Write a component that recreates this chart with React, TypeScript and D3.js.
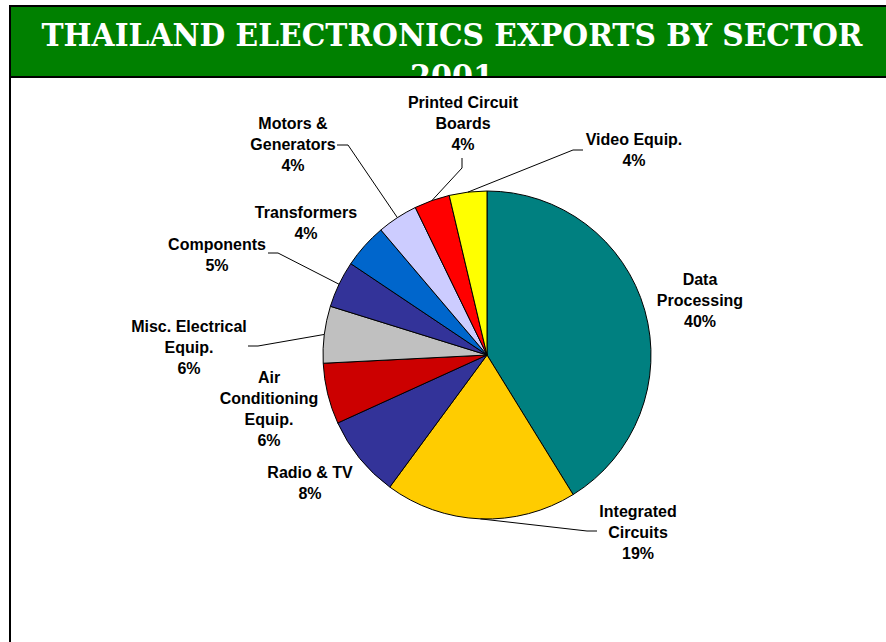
import * as d3 from 'd3';

// slice values (clockwise from 12 o'clock)
const categories = [
  'Data Processing',
  'Integrated Circuits',
  'Radio & TV',
  'Air Conditioning Equip.',
  'Misc. Electrical Equip.',
  'Components',
  'Transformers',
  'Motors & Generators',
  'Printed Circuit Boards',
  'Video Equip.',
];
const values = [41.2, 18.9, 8.1, 6.0, 5.6, 4.6, 4.4, 4.0, 3.5, 3.7];
const pctLabels = ['40%', '19%', '8%', '6%', '6%', '5%', '4%', '4%', '4%', '4%'];
const labelLines = [
  ['Data', 'Processing'],
  ['Integrated', 'Circuits'],
  ['Radio & TV'],
  ['Air', 'Conditioning', 'Equip.'],
  ['Misc. Electrical', 'Equip.'],
  ['Components'],
  ['Transformers'],
  ['Motors &', 'Generators'],
  ['Printed Circuit', 'Boards'],
  ['Video Equip.'],
];
const colors = [
  '#008080',
  '#FFCC00',
  '#333399',
  '#CC0000',
  '#C0C0C0',
  '#333399',
  '#0066CC',
  '#CCCCFF',
  '#FF0000',
  '#FFFF00',
];

const title = 'THAILAND ELECTRONICS EXPORTS BY SECTOR';
const subtitle = '2001';

// layout
const W = 886;
const H = 642;
const cx = 487;
const cy = 355;
const radius = 164;
const lineH = 21;

// label placement: centre x, first baseline
const labelPos: [number, number][] = [
  [700, 285],
  [638, 517],
  [310, 478],
  [269, 383],
  [189, 332],
  [217, 250],
  [306, 218],
  [293, 129],
  [463, 108],
  [634, 145],
];
// leader lines: start next to label, elbow, then to the slice edge
const leaders: ([number, number][] | null)[] = [
  null,
  [[597, 531], [587, 531]],
  null,
  null,
  [[248, 346], [258, 346]],
  [[268, 253], [278, 253]],
  null,
  [[337, 145], [348, 145]],
  [[462, 158], [462, 168]],
  [[583, 150], [573, 150]],
];

export default function App() {
  const pie = d3
    .pie<number>()
    .sort(null)
    .value((d) => d);
  const arcs = pie(values);
  const arc = d3.arc<d3.PieArcDatum<number>>().innerRadius(0).outerRadius(radius);
  const line = d3.line();

  return (
    <svg width={W} height={H} style={{ position: 'absolute', left: 0, top: 0 }}>
      <rect x={0} y={0} width={W} height={H} fill="#fff" />
      <defs>
        <clipPath id="hdr">
          <rect x={10} y={6} width={W} height={71} />
        </clipPath>
      </defs>

      {/* header band */}
      <rect x={10} y={6} width={W + 10} height={71} fill="#008000" stroke="#000" strokeWidth={2} />
      <g clipPath="url(#hdr)" fontFamily="'DejaVu Serif', serif" fontWeight="bold" fill="#fff">
        <text x={452} y={46} fontSize={31.5} textAnchor="middle" textLength={821} lengthAdjust="spacingAndGlyphs">
          {title}
        </text>
        <text x={452} y={87} fontSize={31.5} textAnchor="middle" textLength={84} lengthAdjust="spacingAndGlyphs">
          {subtitle}
        </text>
      </g>
      <line x1={10} x2={W} y1={77} y2={77} stroke="#000" strokeWidth={2} />
      <line x1={10} x2={10} y1={5} y2={H} stroke="#000" strokeWidth={2} />

      {/* Pie */}
      <g transform={`translate(${cx}, ${cy})`}>
        {arcs.map((a, i) => (
          <path key={categories[i]} d={arc(a)!} fill={colors[i]} stroke="#000" strokeWidth={1} />
        ))}
      </g>

      {/* leader lines */}
      {arcs.map((a, i) => {
        const l = leaders[i];
        if (!l) return null;
        const mid = (a.startAngle + a.endAngle) / 2;
        const edge: [number, number] = [cx + radius * Math.sin(mid), cy - radius * Math.cos(mid)];
        return <path key={i} d={line([...l, edge])!} fill="none" stroke="#000" strokeWidth={1} />;
      })}

      {/* labels */}
      <g fontFamily="'Liberation Sans', Arial, sans-serif" fontWeight="bold" fontSize={16} fill="#000" textAnchor="middle">
        {categories.map((c, i) => {
          const [lx, ly] = labelPos[i];
          const lines = [...labelLines[i], pctLabels[i]];
          return (
            <text key={c} x={lx} y={ly}>
              {lines.map((t, j) => (
                <tspan key={j} x={lx} y={ly + j * lineH}>
                  {t}
                </tspan>
              ))}
            </text>
          );
        })}
      </g>
    </svg>
  );
}
